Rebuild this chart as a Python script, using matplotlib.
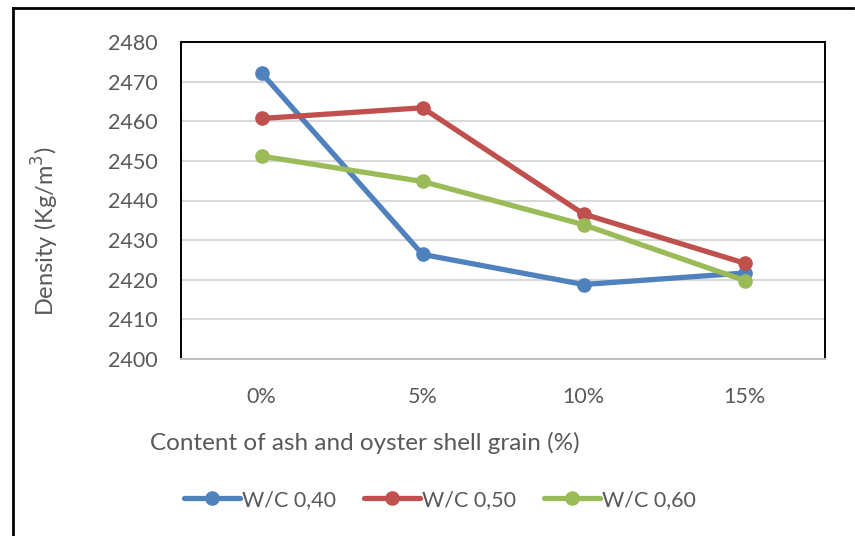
import matplotlib
matplotlib.use('Agg')
import matplotlib.pyplot as plt
from matplotlib.lines import Line2D

# ── Data ─────────────────────────────────────────────────────────────────────
contents = ['0%', '5%', '10%', '15%']
wc_040 = [2472.2, 2426.4, 2418.8, 2421.7]
wc_050 = [2460.7, 2463.4, 2436.6, 2424.2]
wc_060 = [2451.2, 2444.8, 2433.9, 2419.8]
series_names = ['W/C 0,40', 'W/C 0,50', 'W/C 0,60']
y_ticks = [2400, 2410, 2420, 2430, 2440, 2450, 2460, 2470, 2480]

COLOURS = ['#4F81BD', '#C0504D', '#9BBB59']
TEXT = '#595959'

plt.rcParams['font.family'] = ['Lato', 'DejaVu Sans']

fig = plt.figure(figsize=(8.55, 5.36), dpi=100)
ax = fig.add_axes([181 / 855, 1 - 359 / 536, 644 / 855, 317 / 536])

x = list(range(len(contents)))
handles = []
for vals, col, name in zip([wc_040, wc_050, wc_060], COLOURS, series_names):
    ax.plot(x, vals, color=col, linewidth=3.8, marker='o', markersize=9.5,
            solid_capstyle='round', zorder=3)
    handles.append(Line2D([0], [0], color=col, linewidth=3.8, marker='o',
                          markersize=9.5, solid_capstyle='round', label=name))

ax.set_xlim(-0.5, 3.5)
ax.set_ylim(2400, 2480)
ax.set_yticks(y_ticks)
ax.set_xticks(x)
ax.set_xticklabels(contents)
ax.yaxis.grid(True, color='#D9D9D9', linewidth=1.5)
ax.set_axisbelow(True)
ax.tick_params(length=0, labelsize=15.5, colors=TEXT, pad=17)
ax.tick_params(axis='x', pad=20)

for side in ['top', 'left', 'right']:
    ax.spines[side].set_color('black')
    ax.spines[side].set_linewidth(1.4)
ax.spines['bottom'].set_color('#BFBFBF')
ax.spines['bottom'].set_linewidth(1.4)

fig.text(45 / 855, 1 - 231 / 536, 'Density (Kg/m$^3$)', rotation=90,
         ha='center', va='center', fontsize=17, color=TEXT)
fig.text(365 / 855, 1 - 443 / 536, 'Content of ash and oyster shell grain (%)',
         ha='center', va='center', fontsize=17.5, color=TEXT)

fig.legend(handles=handles, loc='center', bbox_to_anchor=(440 / 855, 1 - 500 / 536),
           ncol=3, frameon=False, fontsize=15.5, handlelength=2.6,
           handletextpad=0.1, columnspacing=1.3, labelcolor=TEXT)

# outer chart frame (only left and top edges are visible in the crop)
fig.add_artist(Line2D([13 / 855, 853 / 855], [1 - 8 / 536, 1 - 8 / 536],
                      color='black', linewidth=2, transform=fig.transFigure))
fig.add_artist(Line2D([13 / 855, 13 / 855], [1 - 8 / 536, 0],
                      color='black', linewidth=2, transform=fig.transFigure))

fig.savefig('out.png', dpi=100)
